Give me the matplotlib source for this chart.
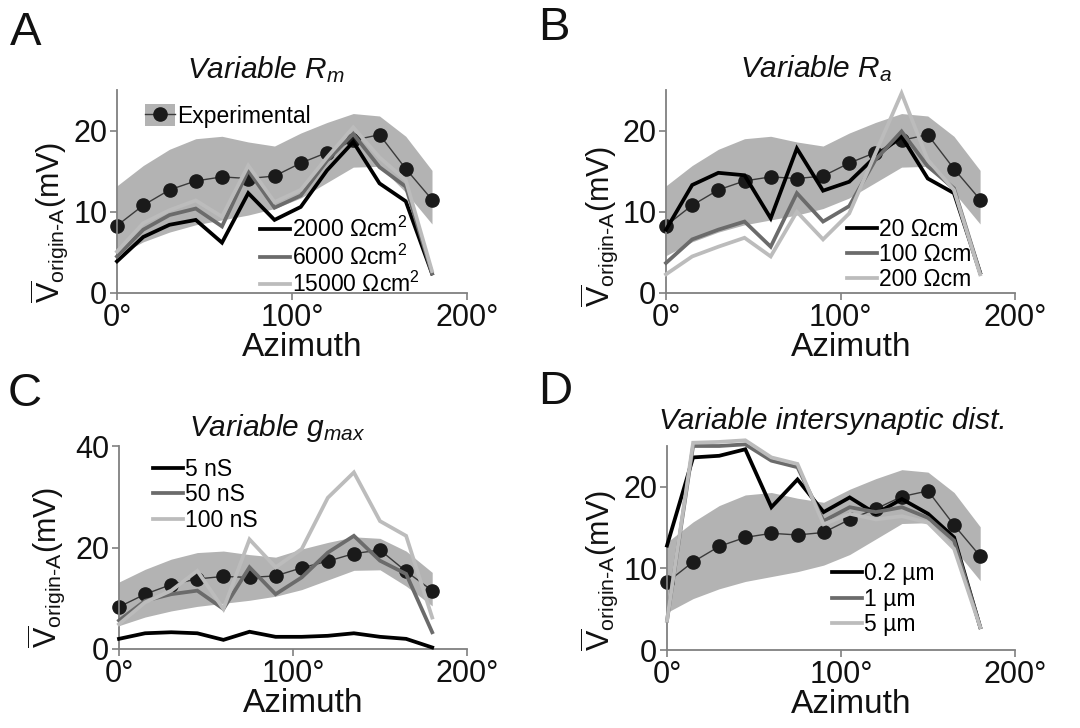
import numpy as np
import matplotlib
matplotlib.use("Agg")
import matplotlib.pyplot as plt
from matplotlib.patches import Patch
from matplotlib.lines import Line2D

plt.rcParams['font.family'] = ['Liberation Sans', 'DejaVu Sans']
plt.rcParams['mathtext.fontset'] = 'custom'
plt.rcParams['mathtext.rm'] = 'Liberation Sans'
plt.rcParams['mathtext.it'] = 'Liberation Sans:italic'
plt.rcParams['mathtext.bf'] = 'Liberation Sans:bold'

# ---------------- data ----------------
azimuth = [0, 15, 30, 45, 60, 75, 90, 105, 120, 135, 150, 165, 180]

exp_mean = [8.3, 10.8, 12.7, 13.8, 14.3, 14.1, 14.4, 16.0, 17.3, 18.8, 19.5, 15.3, 11.5]
exp_upper = [13.2, 15.7, 17.7, 19.0, 19.3, 18.6, 18.1, 19.7, 21.0, 22.1, 21.8, 19.3, 15.1]
exp_lower = [4.6, 6.3, 7.5, 8.4, 9.0, 9.6, 10.4, 11.7, 13.6, 15.5, 15.6, 12.4, 8.5]

rm_labels = ['2000 Ωcm$^{2}$', '6000 Ωcm$^{2}$', '15000 Ωcm$^{2}$']
rm_2000 = [3.9, 6.9, 8.4, 9.0, 6.2, 12.3, 9.0, 10.6, 15.1, 18.6, 13.5, 11.3, 2.4]
rm_6000 = [4.5, 7.8, 9.6, 10.4, 8.2, 15.1, 10.5, 12.0, 16.3, 19.6, 15.5, 13.1, 2.4]
rm_15000 = [5.1, 8.6, 10.2, 11.4, 9.4, 15.7, 11.2, 12.7, 16.7, 20.4, 16.7, 13.9, 2.7]

ra_labels = ['20 Ωcm', '100 Ωcm', '200 Ωcm']
ra_20 = [7.8, 13.3, 14.8, 14.5, 9.2, 17.8, 12.6, 13.7, 16.8, 19.3, 14.1, 12.3, 2.5]
ra_100 = [3.7, 6.6, 7.8, 8.8, 5.7, 12.3, 8.8, 10.7, 16.4, 19.9, 15.6, 12.9, 2.5]
ra_200 = [2.3, 4.5, 5.7, 6.8, 4.5, 10.0, 6.6, 9.8, 17.2, 24.6, 16.4, 12.7, 2.3]

g_labels = ['5 nS', '50 nS', '100 nS']
g_5 = [2.0, 3.1, 3.3, 3.1, 1.8, 3.4, 2.4, 2.4, 2.6, 3.1, 2.4, 2.0, 0.3]
g_50 = [5.6, 9.5, 10.8, 11.5, 7.9, 16.1, 10.8, 14.1, 19.0, 22.3, 17.4, 14.8, 3.3]
g_100 = [4.9, 9.2, 11.5, 15.4, 7.9, 21.6, 16.1, 19.7, 29.8, 34.8, 25.2, 22.3, 6.2]

d_labels = ['0.2 µm', '1 µm', '5 µm']
d_02 = [12.8, 23.6, 23.8, 24.6, 17.5, 20.9, 16.9, 18.7, 16.7, 18.5, 16.7, 13.8, 2.8]
d_1 = [3.6, 25.0, 25.0, 25.2, 23.2, 22.4, 15.8, 17.5, 16.9, 17.5, 16.2, 13.4, 2.8]
d_5 = [3.6, 25.4, 25.5, 25.7, 23.6, 22.8, 15.4, 16.7, 16.0, 16.4, 15.6, 12.4, 2.8]

x_ticks = [0, 100, 200]
x_ticklabels = ['0°', '100°', '200°']

# ---------------- style ----------------
colors = ['#000000', '#6b6b6b', '#bcbcbc']
band_color = '#b3b3b3'
spine_color = '#808080'
LW = 2.7

fig = plt.figure(figsize=(10.8, 7.28), dpi=100)

panels = [
    dict(rect=[117/1080, (728-293)/728, 350/1080, 203/728], letter='A', lx=10/1080, ly=(728-45)/728,
         title=r'Variable $R_m$', tx=0.426, ty=1.059, series=[rm_2000, rm_6000, rm_15000], labels=rm_labels,
         ylim=(0, 25), yticks=[0, 10, 20], leg=(0.409, 0.375), ylab=(-0.135, 0.35), exp_leg=True),
    dict(rect=[666/1080, (728-293)/728, 349/1080, 203/728], letter='B', lx=538/1080, ly=(728-40)/728,
         title=r'Variable $R_a$', tx=0.43, ty=1.064, series=[ra_20, ra_100, ra_200], labels=ra_labels,
         ylim=(0, 25), yticks=[0, 10, 20], leg=(0.519, 0.37), ylab=(-0.133, 0.33), exp_leg=False),
    dict(rect=[119/1080, (728-649)/728, 348/1080, 203/728], letter='C', lx=8/1080, ly=(728-406)/728,
         title=r'Variable $g_{max}$', tx=0.454, ty=1.048, series=[g_5, g_50, g_100], labels=g_labels,
         ylim=(0, 40), yticks=[0, 20, 40], leg=(0.098, 0.94), ylab=(-0.148, 0.40), exp_leg=False),
    dict(rect=[667/1080, (728-650)/728, 348/1080, 204/728], letter='D', lx=538/1080, ly=(728-404)/728,
         title='Variable intersynaptic dist.', tx=0.477, ty=1.083, series=[d_02, d_1, d_5], labels=d_labels,
         ylim=(0, 25), yticks=[0, 10, 20], leg=(0.474, 0.43), ylab=(-0.136, 0.39), exp_leg=False),
]

ylabel = r'$\overline{\mathrm{V}}_{\mathrm{origin}\text{-}\mathrm{A}}$(mV)'

for p in panels:
    ax = fig.add_axes(p['rect'])
    ax.fill_between(azimuth, exp_lower, exp_upper, color=band_color, lw=0, zorder=1)
    ax.plot(azimuth, exp_mean, color='#3a3a3a', lw=1.0, marker='o', ms=9.5,
            mfc='#1a1a1a', mec='#1a1a1a', zorder=2, clip_on=False)
    handles = []
    for s, c, lab, z in zip(p['series'], colors, p['labels'], [3, 4, 5]):
        h, = ax.plot(azimuth, s, color=c, lw=LW, zorder=z, solid_joinstyle='miter', clip_on=False)
        handles.append((h, lab))
    ax.set_xlim(0, 200)
    ax.set_ylim(*p['ylim'])
    ax.set_xticks(x_ticks)
    ax.set_xticklabels(x_ticklabels)
    ax.set_yticks(p['yticks'])
    for sp in ['top', 'right']:
        ax.spines[sp].set_visible(False)
    for sp in ['left', 'bottom']:
        ax.spines[sp].set_color(spine_color)
        ax.spines[sp].set_linewidth(1.3)
    ax.tick_params(axis='both', colors=spine_color, length=5, width=1.2, labelsize=22,
                   labelcolor='#111111', pad=2)
    ax.set_xlabel('Azimuth', fontsize=24, color='#111111')
    ax.xaxis.set_label_coords(0.53, -0.19)
    ax.xaxis.label.set_va('top')
    ax.set_ylabel(ylabel, fontsize=22, color='#111111')
    ax.yaxis.set_label_coords(*p['ylab'])
    ax.text(p['tx'], p['ty'], p['title'], transform=ax.transAxes, ha='center', va='baseline',
            fontsize=21.5, style='italic', color='#111111')
    fig.text(p['lx'], p['ly'], p['letter'], fontsize=34, va='baseline', ha='left', color='#111111')

    leg = ax.legend([h for h, _ in handles], [l for _, l in handles], loc='upper left',
                    bbox_to_anchor=p['leg'], frameon=False, fontsize=16.5, handlelength=1.3,
                    handletextpad=0.1, labelspacing=0.1, borderpad=0, borderaxespad=0)
    leg.set_zorder(10)
    if p['exp_leg']:
        ax.add_artist(leg)
        eh = (Patch(facecolor=band_color, edgecolor='none'),
              Line2D([], [], color='#3a3a3a', lw=1.0, marker='o', ms=9.5, mfc='#1a1a1a', mec='#1a1a1a'))
        leg2 = ax.legend([eh], ['Experimental'], loc='upper left', bbox_to_anchor=(0.08, 0.93),
                         frameon=False, fontsize=16.5, handlelength=1.3, handletextpad=0.1,
                         borderpad=0, borderaxespad=0, handleheight=1.1)

fig.savefig('out.png', dpi=100)
